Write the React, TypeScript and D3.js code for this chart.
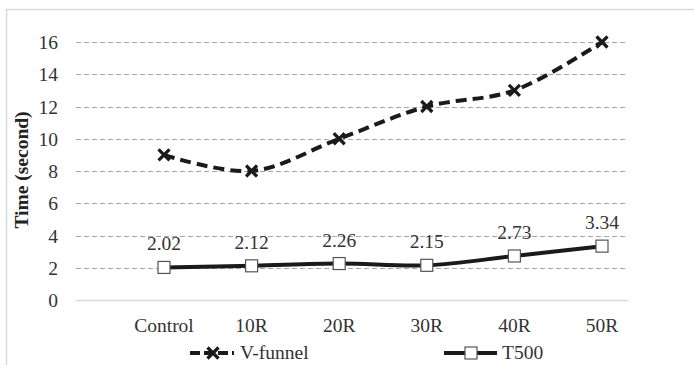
import * as d3 from "d3"

const categories = ["Control", "10R", "20R", "30R", "40R", "50R"]
const vFunnel = [9, 8, 10, 12, 13, 16]
const t500 = [2.02, 2.12, 2.26, 2.15, 2.73, 3.34]
const yTicks = [0, 2, 4, 6, 8, 10, 12, 14, 16]

const width = 694
const height = 365
const font = '"Liberation Serif", monospace'
const textStyle = { fontFamily: font }
const fs = 19.5

// plot area edges (grid lines run from left to right)
const left = 76
const right = 628

const x = d3.scalePoint<string>().domain(categories).range([164, 602])
const y = d3.scaleLinear().domain([0, 16]).range([300, 42])

const line = d3.line<number>()
	.x((_, i) => x(categories[i])!)
	.y(d => y(d))
	.curve(d3.curveCatmullRom.alpha(0.5))

const Cross = ({ cx, cy }: { cx: number; cy: number }) => (
	<path
		d={`M${cx - 5.5},${cy - 5.5}L${cx + 5.5},${cy + 5.5}M${cx - 5.5},${cy + 5.5}L${cx + 5.5},${cy - 5.5}`}
		stroke="#1a1a1a"
		strokeWidth={3.2}
	/>
)

const Square = ({ cx, cy }: { cx: number; cy: number }) => (
	<rect x={cx - 6} y={cy - 6} width={12} height={12} fill="white" stroke="#555" strokeWidth={1.2} />
)

const App = () => {
	const ly = 353
	return (
		<svg width={width} height={height} style={{ position: "absolute", left: 0, top: 0 }}>
			{/* outer chart frame */}
			<rect x={6.5} y={9.5} width={700} height={400} fill="white" stroke="#d9d9d9" strokeWidth={1.5} />

			{/* gridlines */}
			{yTicks.map(d => (
				<line
					key={"g" + d}
					x1={left}
					x2={right}
					y1={Math.round(y(d)) + 0.5}
					y2={Math.round(y(d)) + 0.5}
					stroke={d === 0 ? "#d9d9d9" : "#a6a6a6"}
					strokeWidth={d === 0 ? 1.5 : 1.2}
					strokeDasharray={d === 0 ? undefined : "5,3"}
				/>
			))}

			{/* y tick labels */}
			{yTicks.map(d => (
				<text key={"t" + d} x={58} y={y(d) + 7} textAnchor="end" fill="#333" fontSize={fs} style={textStyle}>
					{d}
				</text>
			))}

			{/* category labels */}
			{categories.map(c => (
				<text key={c} x={x(c)} y={332} textAnchor="middle" fill="#333" fontSize={fs} style={textStyle}>
					{c}
				</text>
			))}

			{/* y axis title */}
			<text transform="translate(28,170) rotate(-90)" textAnchor="middle" fill="#222" fontWeight="bold" fontSize={fs} style={textStyle}>
				Time (second)
			</text>

			{/* V-funnel */}
			<path d={line(vFunnel)!} fill="none" stroke="#1a1a1a" strokeWidth={4} strokeDasharray="11,6" />
			{vFunnel.map((v, i) => (
				<Cross key={"c" + i} cx={x(categories[i])!} cy={y(v)} />
			))}

			{/* T500 */}
			<path d={line(t500)!} fill="none" stroke="#1a1a1a" strokeWidth={4} />
			{t500.map((v, i) => (
				<Square key={"s" + i} cx={x(categories[i])!} cy={y(v)} />
			))}
			{t500.map((v, i) => (
				<text key={"l" + i} x={x(categories[i])} y={y(v) - 17} textAnchor="middle" fill="#333" fontSize={fs} style={textStyle}>
					{v.toFixed(2)}
				</text>
			))}

			{/* legend */}
			<line x1={190} x2={234} y1={ly} y2={ly} stroke="#1a1a1a" strokeWidth={4} strokeDasharray="10,4" />
			<Cross cx={213} cy={ly} />
			<text x={240} y={ly + 6} fill="#333" fontSize={fs} style={textStyle}>V-funnel</text>

			<line x1={444} x2={497} y1={ly} y2={ly} stroke="#1a1a1a" strokeWidth={4} />
			<Square cx={471} cy={ly} />
			<text x={502} y={ly + 6} fill="#333" fontSize={fs} style={textStyle}>T500</text>
		</svg>
	)
}

export default App
